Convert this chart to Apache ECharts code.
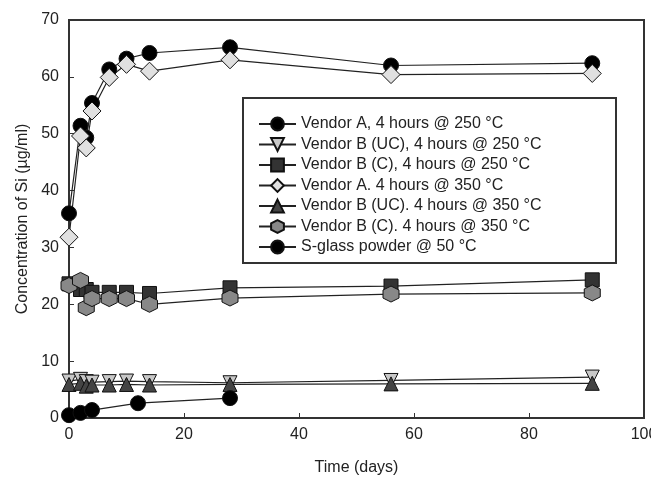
<!DOCTYPE html>
<html lang="en">
<head>
    <meta charset="UTF-8">
    <title>Concentration of Si</title>
    <style>
        html, body { margin: 0; padding: 0; background: #fff; }
    </style>
</head>
<body>

<div id="main" style="width:651px;height:480px;"></div>

<script type="text/javascript" src="https://cdn.jsdelivr.net/npm/echarts@6/dist/echarts.min.js"></script>
<script type="text/javascript">
    // 数据
    var days = [0, 2, 3, 4, 7, 10, 14, 28, 56, 91];
    var vendorA250 = [36, 51.4, 49.3, 55.4, 61.3, 63.2, 64.2, 65.2, 62, 62.4];
    var vendorBUC250 = [6.5, 6.8, 6.4, 6.3, 6.4, 6.5, 6.4, 6.2, 6.6, 7.2];
    var vendorBC250 = [23.6, 22.6, 22.6, 22.1, 22.1, 22.1, 21.9, 22.9, 23.2, 24.3];
    var vendorA350 = [31.8, 49.6, 47.5, 54, 59.9, 62.2, 61, 63, 60.4, 60.6];
    var vendorBUC350 = [5.9, 6.1, 5.6, 5.8, 5.8, 5.9, 5.8, 5.9, 6.0, 6.1];
    var vendorBC350 = [23.3, 24.2, 19.4, 21, 21, 21, 20, 21.1, 21.8, 22];
    var sglassDays = [0, 2, 4, 12, 28];
    var sglass = [0.5, 0.9, 1.4, 2.6, 3.5];

    var names = [
        'Vendor A, 4 hours @ 250 °C',
        'Vendor B (UC), 4 hours @ 250 °C',
        'Vendor B (C), 4 hours @ 250 °C',
        'Vendor A. 4 hours @ 350 °C',
        'Vendor B (UC). 4 hours @ 350 °C',
        'Vendor B (C). 4 hours @ 350 °C',
        'S-glass powder @ 50 °C'
    ];

    var hexagon = 'path://M50,0 L93.3,25 L93.3,75 L50,100 L6.7,75 L6.7,25 Z';
    var font = '"Liberation Sans", Arial, sans-serif';

    function pairs(xs, ys) {
        return xs.map(function (x, i) { return [x, ys[i]]; });
    }

    function makeSeries(name, xs, ys, symbol, size, fill, rotate) {
        return {
            name: name,
            type: 'line',
            data: pairs(xs, ys),
            symbol: symbol,
            symbolSize: size,
            symbolRotate: rotate || 0,
            showAllSymbol: true,
            lineStyle: { color: '#222', width: 1.2 },
            itemStyle: { color: fill, borderColor: '#111', borderWidth: 1, opacity: 1 },
            emphasis: { disabled: true },
            animation: false
        };
    }

    var chart = echarts.init(document.getElementById('main'));

    chart.setOption({
        textStyle: { fontFamily: font },
        grid: {
            left: 69, right: 7, top: 20, bottom: 62,
            outerBoundsMode: 'none',
            show: true, borderColor: '#333', borderWidth: 2
        },
        xAxis: {
            type: 'value', min: 0, max: 100, interval: 20,
            name: 'Time (days)', nameLocation: 'middle', nameGap: 42,
            nameTextStyle: { fontSize: 16, color: '#222', fontFamily: font },
            axisLine: { lineStyle: { color: '#333', width: 2 } },
            axisTick: { inside: true, length: 5, lineStyle: { color: '#333' } },
            axisLabel: { fontSize: 16, color: '#222', margin: 9, fontFamily: font },
            splitLine: { show: false }
        },
        yAxis: {
            type: 'value', min: 0, max: 70, interval: 10,
            name: 'Concentration of Si (µg/ml)', nameLocation: 'middle', nameGap: 38,
            nameTextStyle: { fontSize: 16, color: '#222', fontFamily: font },
            axisLine: { lineStyle: { color: '#333', width: 2 } },
            axisTick: { inside: true, length: 5, lineStyle: { color: '#333' } },
            axisLabel: { fontSize: 16, color: '#222', margin: 10, fontFamily: font },
            splitLine: { show: false }
        },
        legend: {
            orient: 'vertical',
            left: 253, top: 111,
            itemWidth: 37, itemHeight: 16, itemGap: 4.5,
            textStyle: { fontSize: 16, color: '#222', fontFamily: font },
            selectedMode: false,
            data: names
        },
        graphic: [{
            type: 'rect',
            shape: { x: 243, y: 98, width: 373, height: 165 },
            style: { fill: null, stroke: '#333', lineWidth: 2 },
            z: 1
        }],
        series: [
            makeSeries(names[0], days, vendorA250, 'circle', 15, '#000'),
            makeSeries(names[1], days, vendorBUC250, 'triangle', 14, '#c8c8c8', 180),
            makeSeries(names[2], days, vendorBC250, 'rect', 14, '#333'),
            makeSeries(names[3], days, vendorA350, 'diamond', 18, '#e0e0e0'),
            makeSeries(names[4], days, vendorBUC350, 'triangle', 14, '#444'),
            makeSeries(names[5], days, vendorBC350, hexagon, 16, '#888'),
            makeSeries(names[6], sglassDays, sglass, 'circle', 15, '#000')
        ]
    });
</script>
</body>
</html>
